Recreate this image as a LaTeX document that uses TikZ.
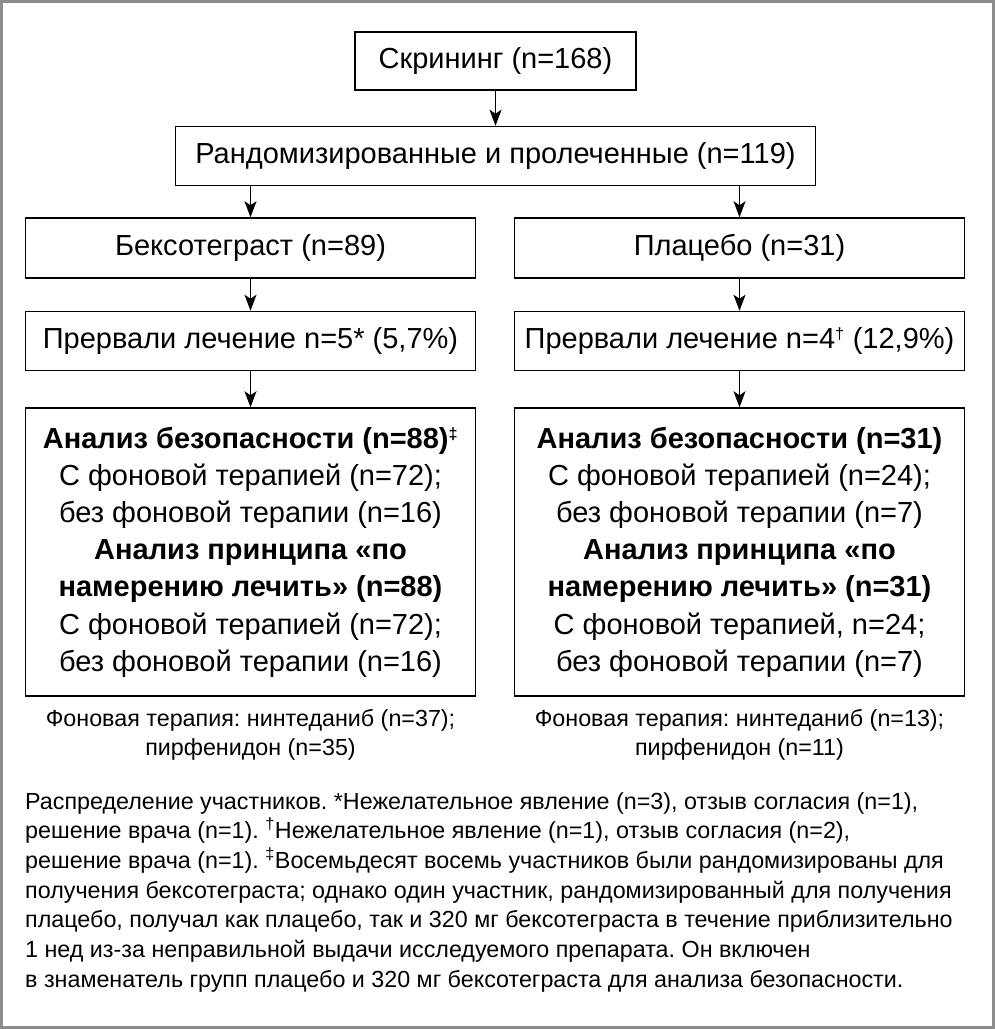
\documentclass[tikz,border=0pt]{standalone}
\usepackage{fontspec}
\setmainfont{Liberation Sans}
\usetikzlibrary{positioning}
\usetikzlibrary{arrows.meta}
\frenchspacing

\begin{document}
\begin{tikzpicture}[
            x=1pt, y=1pt,
            block/.style={
                draw,
                line width=1.5pt,
                align=center,
                inner sep=0pt,
                minimum width=450pt,
                minimum height=59pt,
                font=\fontsize{29}{37.2}\selectfont
            },
            nota/.style={
                inner sep=0pt,
                font=\fontsize{23.3}{29.7}\selectfont
            }
        ]

        \useasboundingbox (0,0) rectangle (995,-1029);
        \draw[line width=3pt, black!45] (1.5,-1.5) rectangle (993.5,-1027.5);

        \node[block, minimum width=281pt, minimum height=58pt] (skrining) at (495.5,-61) {Скрининг (n=168)};

        \node[block, minimum width=640pt, below = 35pt of skrining] (random)
            {Рандомизированные и пролеченные (n=119)};

        \node[block, minimum height=60pt, below = 31pt of random, xshift=-245pt] (bekso)
            {Бексотеграст (n=89)};

        \node[block, minimum height=60pt, below = 31pt of random, xshift=244pt] (placebo)
            {Плацебо (n=31)};

        \node[block, below = 32pt of bekso] (prervali bekso)
            {Прервали лечение n=5* (5,7\%)};

        \node[block, below = 32pt of placebo] (prervali placebo)
            {Прервали лечение n=4\textsuperscript{\scalebox{0.8}{†}} (12,9\%)};

        \node[block, minimum height=288pt, below = 36pt of prervali bekso] (analiz bekso)
            {\textbf{Анализ безопасности (n=88)\textsuperscript{\scalebox{0.8}{‡}}}\\
            С фоновой терапией (n=72);\\
            без фоновой терапии (n=16)\\
            \textbf{Анализ принципа «по}\\
            \textbf{намерению лечить» (n=88)}\\
            С фоновой терапией (n=72);\\
            без фоновой терапии (n=16)};

        \node[block, minimum height=288pt, below = 36pt of prervali placebo] (analiz placebo)
            {\textbf{Анализ безопасности (n=31)}\\
            С фоновой терапией (n=24);\\
            без фоновой терапии (n=7)\\
            \textbf{Анализ принципа «по}\\
            \textbf{намерению лечить» (n=31)}\\
            С фоновой терапией, n=24;\\
            без фоновой терапии (n=7)};

        \node[nota, align=center, below = 12pt of analiz bekso] (fon bekso)
            {Фоновая терапия: нинтеданиб (n=37);\\
            пирфенидон (n=35)};

        \node[nota, align=center, below = 12pt of analiz placebo] (fon placebo)
            {Фоновая терапия: нинтеданиб (n=13);\\
            пирфенидон (n=11)};

        \node[nota, align=left, anchor=north west] (raspredelenie) at (25,-792)
            {Распределение участников. *Нежелательное явление (n=3), отзыв согласия (n=1),\\
            решение врача (n=1). \textsuperscript{†}Нежелательное явление (n=1), отзыв согласия (n=2),\\
            решение врача (n=1). \textsuperscript{‡}Восемьдесят восемь участников были рандомизированы для\\
            получения бексотеграста; однако один участник, рандомизированный для получения\\
            плацебо, получал как плацебо, так и 320 мг бексотеграста в течение приблизительно\\
            1 нед из-за неправильной выдачи исследуемого препарата. Он включен\\
            в знаменатель групп плацебо и 320 мг бексотеграста для анализа безопасности.};

        \draw[-{Stealth[length=16pt,width=12pt,inset=4pt]}, line width=1.3pt] (skrining) -- (random);
        \draw[-{Stealth[length=16pt,width=12pt,inset=4pt]}, line width=1.3pt] (random.south -| bekso) -- (bekso);
        \draw[-{Stealth[length=16pt,width=12pt,inset=4pt]}, line width=1.3pt] (random.south -| placebo) -- (placebo);
        \draw[-{Stealth[length=16pt,width=12pt,inset=4pt]}, line width=1.3pt] (bekso) -- (prervali bekso);
        \draw[-{Stealth[length=16pt,width=12pt,inset=4pt]}, line width=1.3pt] (placebo) -- (prervali placebo);
        \draw[-{Stealth[length=16pt,width=12pt,inset=4pt]}, line width=1.3pt] (prervali bekso) -- (analiz bekso);
        \draw[-{Stealth[length=16pt,width=12pt,inset=4pt]}, line width=1.3pt] (prervali placebo) -- (analiz placebo);


    \end{tikzpicture}
\end{document}
